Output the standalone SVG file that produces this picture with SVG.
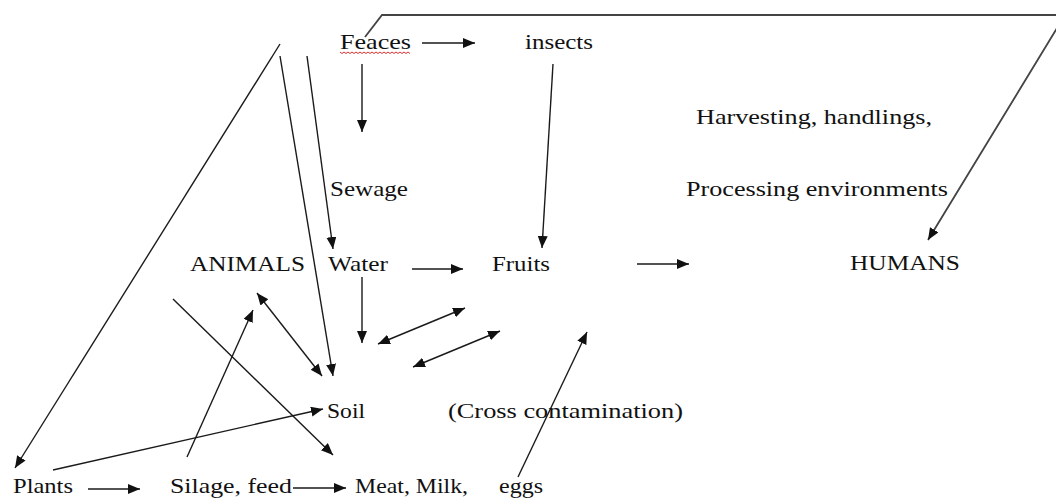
<svg xmlns="http://www.w3.org/2000/svg" width="1056" height="500" viewBox="0 0 1056 500">
<style>
  .c { stroke: #1a1a1a; stroke-width: 1.4; fill: none; }
  .f { stroke: #444; stroke-width: 1.8; fill: none; }
  .sq { stroke: #e03030; stroke-width: 1; fill: none; }
</style>
<defs>
  <marker id="ah" markerUnits="userSpaceOnUse" markerWidth="14" markerHeight="12" refX="12" refY="5" orient="auto-start-reverse">
    <path d="M0,0 L12,5 L0,10 z" fill="#111"/>
  </marker>
</defs>
<rect width="1056" height="500" fill="#fff"/>

<g id="connectors">
  <line class="c" x1="422" y1="43" x2="475" y2="43" marker-end="url(#ah)"/>
  <line class="c" x1="362" y1="64" x2="362" y2="132" marker-end="url(#ah)"/>
  <line class="c" x1="553" y1="64" x2="542" y2="248" marker-end="url(#ah)"/>
  <polyline class="f" points="365,37 382,15 1065,15 928,240" marker-end="url(#ah)"/>
  <line class="c" x1="280" y1="44" x2="15" y2="468" marker-end="url(#ah)"/>
  <line class="c" x1="280" y1="56" x2="333" y2="376" marker-end="url(#ah)"/>
  <line class="c" x1="307" y1="56" x2="333" y2="249" marker-end="url(#ah)"/>
  <line class="c" x1="412" y1="269" x2="463" y2="269" marker-end="url(#ah)"/>
  <line class="c" x1="637" y1="264" x2="689" y2="264" marker-end="url(#ah)"/>
  <line class="c" x1="362" y1="277" x2="362" y2="343" marker-end="url(#ah)"/>
  <line class="c" x1="378" y1="344" x2="465" y2="308" marker-start="url(#ah)" marker-end="url(#ah)"/>
  <line class="c" x1="413" y1="367" x2="500" y2="331" marker-start="url(#ah)" marker-end="url(#ah)"/>
  <line class="c" x1="257" y1="293" x2="322" y2="376" marker-start="url(#ah)" marker-end="url(#ah)"/>
  <line class="c" x1="187" y1="457" x2="253" y2="310" marker-end="url(#ah)"/>
  <line class="c" x1="173" y1="299" x2="333" y2="455" marker-end="url(#ah)"/>
  <line class="c" x1="53" y1="470" x2="323" y2="409" marker-end="url(#ah)"/>
  <line class="c" x1="518" y1="477" x2="587" y2="332" marker-end="url(#ah)"/>
  <line class="c" x1="88" y1="489" x2="140" y2="489" marker-end="url(#ah)"/>
  <line class="c" x1="293" y1="488" x2="346" y2="488" marker-end="url(#ah)"/>
</g>

<g id="labels" font-family="Liberation Serif, DejaVu Serif, serif" font-size="22" fill="#111">
<g id="feaces">
  <text x="340" y="49" textLength="71" lengthAdjust="spacingAndGlyphs">Feaces</text>
  <path class="sq" d="M340,52 l2,1.5 l2,-1.5 l2,1.5 l2,-1.5 l2,1.5 l2,-1.5 l2,1.5 l2,-1.5 l2,1.5 l2,-1.5 l2,1.5 l2,-1.5 l2,1.5 l2,-1.5 l2,1.5 l2,-1.5 l2,1.5 l2,-1.5 l2,1.5 l2,-1.5 l2,1.5 l2,-1.5 l2,1.5 l2,-1.5 l2,1.5 l2,-1.5 l2,1.5 l2,-1.5 l2,1.5 l2,-1.5 l2,1.5 l2,-1.5 l2,1.5 l2,-1.5 l2,1.5"/>
</g>
<g id="insects"><text x="525" y="49" textLength="68" lengthAdjust="spacingAndGlyphs">insects</text></g>
<g id="harvesting"><text x="696" y="124" textLength="236" lengthAdjust="spacingAndGlyphs">Harvesting, handlings,</text></g>
<g id="processing"><text x="686" y="196" textLength="262" lengthAdjust="spacingAndGlyphs">Processing environments</text></g>
<g id="sewage"><text x="330" y="196" textLength="78" lengthAdjust="spacingAndGlyphs">Sewage</text></g>
<g id="animals"><text x="190" y="271" textLength="115" lengthAdjust="spacingAndGlyphs">ANIMALS</text></g>
<g id="water"><text x="328" y="271" textLength="60" lengthAdjust="spacingAndGlyphs">Water</text></g>
<g id="fruits"><text x="492" y="271" textLength="58" lengthAdjust="spacingAndGlyphs">Fruits</text></g>
<g id="humans"><text x="850" y="270" textLength="110" lengthAdjust="spacingAndGlyphs">HUMANS</text></g>
<g id="soil"><text x="327" y="418" textLength="38" lengthAdjust="spacingAndGlyphs">Soil</text></g>
<g id="cross"><text x="448" y="418" textLength="235" lengthAdjust="spacingAndGlyphs">(Cross contamination)</text></g>
<g id="plants"><text x="13" y="493" textLength="60" lengthAdjust="spacingAndGlyphs">Plants</text></g>
<g id="silage"><text x="170" y="493" textLength="122" lengthAdjust="spacingAndGlyphs">Silage, feed</text></g>
<g id="meat">
  <text x="355" y="493" textLength="113" lengthAdjust="spacingAndGlyphs">Meat, Milk,</text>
  <text x="499" y="493" textLength="44" lengthAdjust="spacingAndGlyphs">eggs</text>
</g>
</g>
</svg>
